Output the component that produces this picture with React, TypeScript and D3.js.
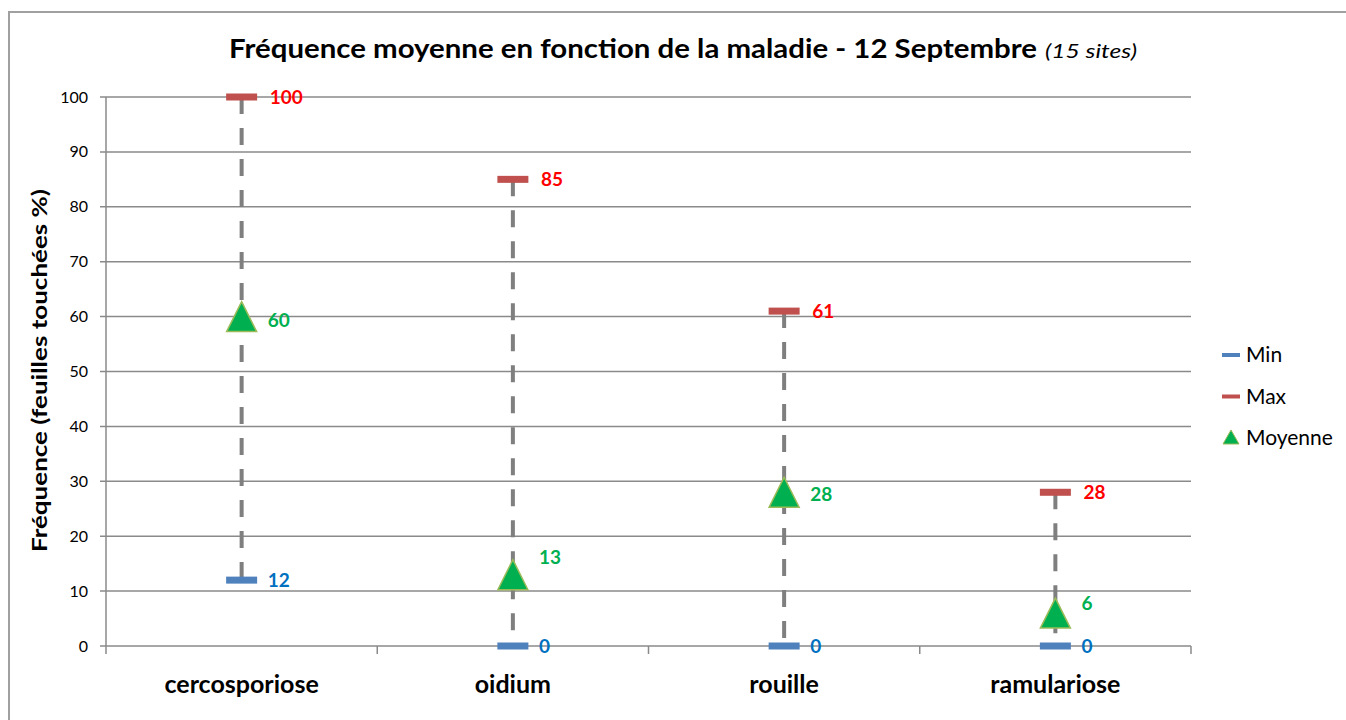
import React from "react";
import * as d3 from "d3";

const categories = ["cercosporiose", "oidium", "rouille", "ramulariose"];
const minValues = [12, 0, 0, 0];
const maxValues = [100, 85, 61, 28];
const meanValues = [60, 13, 28, 6];
const yTicks = [0, 10, 20, 30, 40, 50, 60, 70, 80, 90, 100];
const legendItems = ["Min", "Max", "Moyenne"];

// manual nudges for the mean labels (px, as placed in the original)
const meanLabelNudge = [3, -18, 2, -10];

const W = 1346;
const H = 720;
const FONT = "Lato, 'Open Sans', sans-serif";

export default function App() {
  const left = 106;
  const right = 1191;
  const top = 97;
  const bottom = 646;

  const x = d3.scaleBand<string>().domain(categories).range([left, right]);
  const y = d3.scaleLinear().domain([0, 100]).range([bottom, top]);
  const cx = (c: string) => (x(c) as number) + x.bandwidth() / 2;

  const grid = "#8a8a8a";
  const triPath = (px: number, py: number) =>
    `M${px},${py - 15}L${px + 15},${py + 15}L${px - 15},${py + 15}Z`;

  return (
    <svg
      width={W}
      height={H}
      style={{ position: "absolute", left: 0, top: 0, background: "#fff" }}
      fontFamily={FONT}
    >
      <rect x={9} y={12} width={W + 10} height={H + 10} fill="#fff" stroke="#a0a0a0" strokeWidth={2} />

      {/* title */}
      <text x={229} y={58} fontSize={27} fontWeight="bold" fill="#000" textLength={808} lengthAdjust="spacingAndGlyphs">
        Fréquence moyenne en fonction de la maladie - 12 Septembre
      </text>
      <text x={1045} y={58} fontSize={20} fontStyle="italic" fill="#000" textLength={92} lengthAdjust="spacingAndGlyphs">
        (15 sites)
      </text>

      {/* gridlines */}
      {yTicks.map((t) => (
        <g key={t}>
          <line x1={left - 6} x2={right} y1={y(t)} y2={y(t)} stroke={grid} strokeWidth={1.5} />
          <text x={88} y={y(t) + 5.5} textAnchor="end" fontSize={16} fill="#000">
            {t}
          </text>
        </g>
      ))}

      {/* axes */}
      <line x1={left} x2={left} y1={top} y2={bottom + 8} stroke={grid} strokeWidth={1.5} />
      {categories.map((c) => (
        <line
          key={c}
          x1={(x(c) as number) + x.bandwidth()}
          x2={(x(c) as number) + x.bandwidth()}
          y1={bottom}
          y2={bottom + 8}
          stroke={grid}
          strokeWidth={1.5}
        />
      ))}

      {/* category labels */}
      {categories.map((c) => (
        <text key={c} x={cx(c)} y={693} textAnchor="middle" fontSize={25} fontWeight="bold" fill="#000">
          {c}
        </text>
      ))}

      {/* y axis title */}
      <text
        transform={`translate(${47}, ${371}) rotate(-90)`}
        x={-181}
        fontSize={20}
        fontWeight="bold"
        fill="#000"
        textLength={363}
        lengthAdjust="spacingAndGlyphs"
      >
        Fréquence (feuilles touchées %)
      </text>

      {/* high-low lines */}
      {categories.map((c, i) => (
        <line
          key={c}
          x1={cx(c)}
          x2={cx(c)}
          y1={y(maxValues[i])}
          y2={y(minValues[i])}
          stroke="#7f7f7f"
          strokeWidth={4}
          strokeDasharray="17 14"
        />
      ))}

      {/* markers */}
      {categories.map((c, i) => (
        <g key={c}>
          <rect x={cx(c) - 15.5} y={y(maxValues[i]) - 3.5} width={31} height={7} fill="#C0504D" />
          <rect x={cx(c) - 15.5} y={y(minValues[i]) - 3.5} width={31} height={7} fill="#4F81BD" />
          <path d={triPath(cx(c), y(meanValues[i]))} fill="#00B050" stroke="#9BBB59" strokeWidth={1.5} />
        </g>
      ))}

      {/* labels */}
      {categories.map((c, i) => (
        <g key={c} fontSize={19} fontWeight="bold">
          <text x={cx(c) + 28} y={y(maxValues[i]) + 7} fill="#FF0000">
            {maxValues[i]}
          </text>
          <text x={cx(c) + 26} y={y(minValues[i]) + 7} fill="#0070C0">
            {minValues[i]}
          </text>
          <text x={cx(c) + 26} y={y(meanValues[i]) + 7 + meanLabelNudge[i]} fill="#00B050">
            {meanValues[i]}
          </text>
        </g>
      ))}

      {/* legend */}
      {legendItems.map((name, i) => {
        const ly = 355 + i * 41.5;
        return (
          <g key={name}>
            {i < 2 ? (
              <rect x={1222} y={ly - 2} width={18} height={4} fill={i === 0 ? "#4F81BD" : "#C0504D"} />
            ) : (
              <path d={`M1231,${ly - 8}L1239,${ly + 6}L1223,${ly + 6}Z`} fill="#00B050" stroke="#9BBB59" strokeWidth={1} />
            )}
            <text x={1246} y={ly + 7} fontSize={21} fill="#000">
              {name}
            </text>
          </g>
        );
      })}
    </svg>
  );
}
